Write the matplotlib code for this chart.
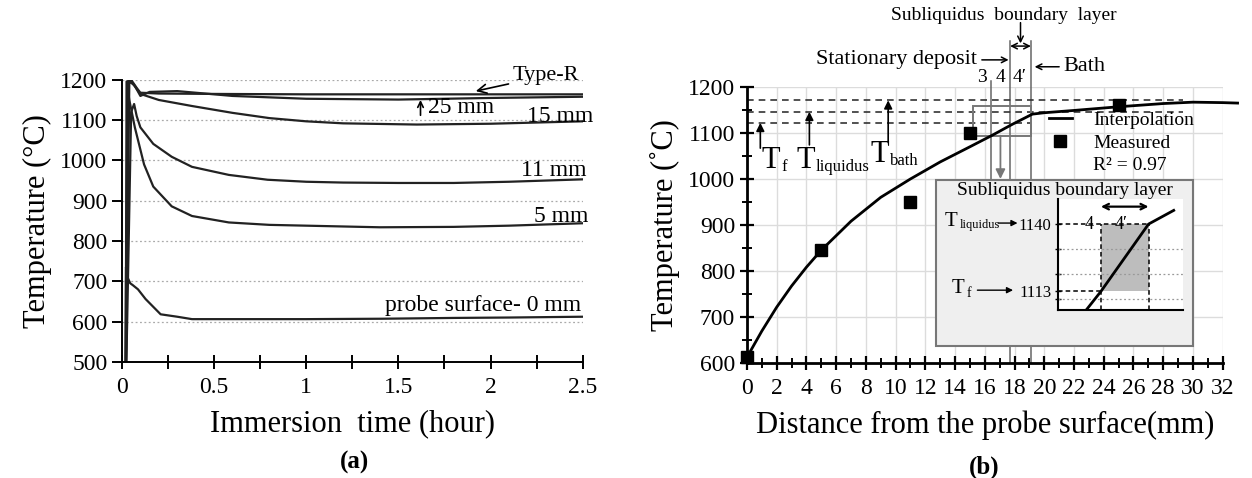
import numpy as np
import matplotlib.pyplot as plt
from matplotlib.ticker import MultipleLocator
from matplotlib.patches import Rectangle

plt.rcParams['font.family'] = ['Liberation Serif', 'DejaVu Serif']

# ---- panel (a): immersion time curves ----
t_typeR = [0.02, 0.03, 0.05, 0.08, 0.1, 0.2, 0.5, 1.0, 1.5, 2.0, 2.5]
T_typeR = [400, 1195, 1200, 1180, 1168, 1166, 1165, 1164, 1164, 1164, 1164]
t_25 = [0.02, 0.035, 0.07, 0.1, 0.15, 0.3, 0.6, 1.0, 1.5, 2.0, 2.5]
T_25 = [400, 1200, 1185, 1160, 1170, 1172, 1160, 1153, 1151, 1155, 1158]
t_15 = [0.02, 0.04, 0.06, 0.1, 0.2, 0.38, 0.6, 0.8, 1.0, 1.2, 1.6, 2.0, 2.5]
T_15 = [400, 1195, 1190, 1165, 1150, 1135, 1118, 1105, 1097, 1092, 1089, 1091, 1097]
t_11 = [0.02, 0.05, 0.066, 0.08, 0.1, 0.17, 0.27, 0.38, 0.58, 0.79, 1.0, 1.2, 1.5, 1.8, 2.1, 2.5]
T_11 = [400, 1120, 1140, 1110, 1082, 1041, 1009, 984, 964, 952, 947, 945, 944, 944, 947, 953]
t_5 = [0.02, 0.025, 0.04, 0.07, 0.12, 0.17, 0.27, 0.38, 0.58, 0.8, 1.0, 1.4, 1.8, 2.1, 2.5]
T_5 = [400, 1196, 1150, 1082, 990, 935, 886, 862, 846, 840, 838, 834, 835, 838, 844]
t_0 = [0.018, 0.022, 0.03, 0.045, 0.06, 0.087, 0.128, 0.21, 0.3, 0.38, 0.6, 1.0, 1.41, 1.8, 2.1, 2.5]
T_0 = [400, 735, 710, 695, 690, 680, 656, 618, 612, 606, 606, 606, 607, 609, 610, 612]

# ---- panel (b): temperature vs distance ----
dist_fit = [0, 1, 2, 3, 4, 5, 7, 9, 11, 13, 15, 16.5, 17.8, 19.2, 20, 22, 25, 28, 30, 32, 33]
T_fit = [612, 669, 721, 767, 808, 845, 908, 960, 1000, 1037, 1070, 1095, 1118, 1141,
         1144, 1149, 1157, 1164, 1167, 1166, 1165]
dist_meas = [0, 5, 11, 15, 25]
T_meas = [612, 845, 950, 1100, 1160]

T_f, T_liq, T_bath = 1122, 1146, 1171
layer_bounds = [16.4, 17.7, 19.1]

# inset (zoom of the subliquidus layer)
ins_x = [17.26, 17.7, 19.1, 19.84]
ins_T = [1105.4, 1113, 1140, 1145.5]

fig = plt.figure(figsize=(12.52, 4.78), dpi=100)
ax = fig.add_axes([0.0974, 0.243, 0.368, 0.590])
bx = fig.add_axes([0.5966, 0.241, 0.380, 0.577])

# ================= (a)
for t, T in [(t_typeR, T_typeR), (t_25, T_25), (t_15, T_15), (t_11, T_11), (t_5, T_5), (t_0, T_0)]:
    ax.plot(t, T, color='#222222', lw=1.6)
ax.set_xlim(0, 2.5)
ax.set_ylim(500, 1200)
ax.yaxis.set_major_locator(MultipleLocator(100))
ax.xaxis.set_minor_locator(MultipleLocator(0.25))
ax.set_xticks([0, 0.5, 1, 1.5, 2, 2.5])
ax.set_xticklabels(['0', '0.5', '1', '1.5', '2', '2.5'])
for yv in range(600, 1201, 100):
    ax.axhline(yv, color='#aaaaaa', lw=0.9, ls=(0, (1.5, 2)), zorder=0)
for s in ['top', 'right']:
    ax.spines[s].set_visible(False)
ax.spines['left'].set_linewidth(1.4)
ax.spines['bottom'].set_linewidth(1.4)
ax.tick_params(axis='y', direction='out', length=7, width=1.4, labelsize=17)
ax.tick_params(axis='x', which='both', direction='inout', length=10, width=1.4, labelsize=17, pad=6)
ax.set_ylabel('Temperature (°C)', fontsize=22, labelpad=6)
ax.set_xlabel('Immersion  time (hour)', fontsize=22, labelpad=8)

ax.annotate('Type-R', xy=(1.92, 1172), xytext=(2.12, 1210), fontsize=16, va='center',
            annotation_clip=False,
            arrowprops=dict(arrowstyle='->', color='black', lw=1.2, shrinkA=1, shrinkB=0))
ax.annotate('', xy=(1.62, 1150), xytext=(1.62, 1112),
            arrowprops=dict(arrowstyle='->', color='black', lw=1.2, shrinkA=0, shrinkB=0))
ax.text(1.66, 1131, '25 mm', fontsize=17, va='center')
ax.text(2.56, 1108, '15 mm', fontsize=17, va='center', ha='right')
ax.text(2.52, 975, '11 mm', fontsize=17, va='center', ha='right')
ax.text(2.53, 862, '5 mm', fontsize=17, va='center', ha='right')
ax.text(2.49, 640, 'probe surface- 0 mm', fontsize=17, va='center', ha='right')

# ================= (b)
bx.plot(dist_fit, T_fit, color='black', lw=2, clip_on=False, zorder=3, label='Interpolation')
bx.plot(dist_meas, T_meas, ls='none', marker='s', ms=8, color='black', clip_on=False,
        zorder=3, label='Measured')
bx.set_xlim(0, 32)
bx.set_ylim(600, 1200)
bx.xaxis.set_major_locator(MultipleLocator(2))
bx.xaxis.set_minor_locator(MultipleLocator(1))
bx.yaxis.set_major_locator(MultipleLocator(100))
bx.yaxis.set_minor_locator(MultipleLocator(50))
bx.grid(True, which='major', color='#dcdcdc', lw=1.0, zorder=0)
bx.set_axisbelow(True)
for s in ['top', 'right']:
    bx.spines[s].set_visible(False)
bx.spines['left'].set_linewidth(2)
bx.spines['bottom'].set_linewidth(2)
bx.tick_params(axis='both', which='major', direction='inout', length=10, width=1.6, labelsize=17)
bx.tick_params(axis='x', which='major', pad=6)
bx.tick_params(axis='both', which='minor', direction='inout', length=7, width=1.4)
bx.set_ylabel('Temperature (˚C)', fontsize=22, labelpad=6)
bx.set_xlabel('Distance from the probe surface(mm)', fontsize=22, labelpad=8)

# characteristic temperatures
for Tv, x_end in [(T_f, 19.1), (T_liq, 29.3), (T_bath, 29.3)]:
    bx.plot([0, x_end], [Tv, Tv], color='#333333', lw=1.2, ls=(0, (4, 3)), zorder=2)
arr = dict(arrowstyle='-|>', color='black', lw=1.2, mutation_scale=12, shrinkA=0, shrinkB=0)
bx.annotate('', xy=(0.9, T_f), xytext=(0.9, 1067), arrowprops=arr)
bx.annotate('', xy=(4.2, T_liq), xytext=(4.2, 1074), arrowprops=arr)
bx.annotate('', xy=(9.5, T_bath), xytext=(9.5, 1080), arrowprops=arr)
bx.text(1.0, 1040, 'T', fontsize=22, va='center')
bx.text(2.3, 1026, 'f', fontsize=12, va='center')
bx.text(3.3, 1040, 'T', fontsize=22, va='center')
bx.text(4.6, 1026, 'liquidus', fontsize=12, va='center')
bx.text(8.3, 1054, 'T', fontsize=22, va='center')
bx.text(9.6, 1040, 'bath', fontsize=12, va='center')

# layer boundaries and labels above the axes
bx.plot([layer_bounds[0]] * 2, [1212, 640], color='#666666', lw=1.1, zorder=1, clip_on=False)
bx.plot([layer_bounds[1]] * 2, [1300, 600], color='#666666', lw=1.1, zorder=1, clip_on=False)
bx.plot([layer_bounds[2]] * 2, [1300, 600], color='#666666', lw=1.1, zorder=1, clip_on=False)
bx.add_patch(Rectangle((15.2, 1094), 3.9, 64, fill=False, ec='#777777', lw=1.4, zorder=2))
bx.annotate('', xy=(17.05, 1000), xytext=(17.05, 1094),
            arrowprops=dict(arrowstyle='-|>', color='#777777', lw=1.3, mutation_scale=14,
                            shrinkA=0, shrinkB=0))
bx.text(15.8, 1220, '3', fontsize=14, ha='center', va='center')
bx.text(17.05, 1220, '4', fontsize=14, ha='center', va='center')
bx.text(18.35, 1220, "4\u2032", fontsize=14, ha='center', va='center')
bx.text(17.3, 1355, 'Subliquidus  boundary  layer', fontsize=14, ha='center', va='center')
bx.annotate('', xy=(18.4, 1295), xytext=(18.4, 1340), annotation_clip=False,
            arrowprops=dict(arrowstyle='->', color='black', lw=1.1, shrinkA=0, shrinkB=0))
bx.annotate('', xy=(layer_bounds[1], 1289), xytext=(layer_bounds[2], 1289), annotation_clip=False,
            arrowprops=dict(arrowstyle='<->', color='black', lw=1.1, shrinkA=0, shrinkB=0))
bx.text(15.5, 1259, 'Stationary deposit', fontsize=16, ha='right', va='center')
bx.annotate('', xy=(17.6, 1259), xytext=(15.8, 1259), annotation_clip=False,
            arrowprops=dict(arrowstyle='->', color='black', lw=1.1, shrinkA=0, shrinkB=0))
bx.text(21.3, 1244, 'Bath', fontsize=16, ha='left', va='center')
bx.annotate('', xy=(19.35, 1244), xytext=(21.0, 1244), annotation_clip=False,
            arrowprops=dict(arrowstyle='->', color='black', lw=1.1, shrinkA=0, shrinkB=0))

# legend
leg = bx.legend(loc='upper left', bbox_to_anchor=(20.3, 1148), bbox_transform=bx.transData,
                frameon=False, fontsize=14, handlelength=1.2, handletextpad=1.1,
                labelspacing=0.3, borderpad=0, borderaxespad=0)
bx.text(23.25, 1030, 'R² = 0.97', fontsize=14, va='center')

# inset panel
bx.add_patch(Rectangle((12.7, 637), 17.3, 360, fc='#efefef', ec='#777777', lw=1.5, zorder=4))
bx.text(21.4, 975, 'Subliquidus boundary layer', fontsize=14, ha='center', va='center', zorder=5)
ix = bx.inset_axes([20.9, 714, 8.4, 242], transform=bx.transData, zorder=5)
ix.set_xlim(16.43, 20.1)
ix.set_ylim(1105.4, 1150)
ix.fill_between([layer_bounds[1], layer_bounds[2]], 1113, 1140, color='#bdbdbd', lw=0)
for yv in [1110, 1120, 1130]:
    ix.axhline(yv, color='#999999', lw=0.9, ls=(0, (1.5, 2)))
ix.plot([16.43, layer_bounds[2]], [1140, 1140], color='black', lw=1.1, ls=(0, (3, 2)))
ix.plot([16.43, layer_bounds[1]], [1113, 1113], color='black', lw=1.1, ls=(0, (3, 2)))
ix.plot([layer_bounds[1]] * 2, [1105.4, 1140], color='black', lw=1.1, ls=(0, (3, 2)))
ix.plot([layer_bounds[2]] * 2, [1105.4, 1140], color='black', lw=1.1, ls=(0, (3, 2)))
ix.plot(ins_x, ins_T, color='black', lw=2)
ix.annotate('', xy=(layer_bounds[1], 1147), xytext=(layer_bounds[2], 1147),
            arrowprops=dict(arrowstyle='<->', color='black', lw=1.6, shrinkA=0, shrinkB=0))
ix.text(17.35, 1140, '4', fontsize=13, ha='center', va='center')
ix.text(18.3, 1140, "4\u2032", fontsize=13, ha='center', va='center')
for s in ['top', 'right']:
    ix.spines[s].set_visible(False)
ix.spines['left'].set_linewidth(1.5)
ix.spines['bottom'].set_linewidth(1.5)
ix.set_xticks([])
ix.set_yticks([1110, 1113, 1120, 1130, 1140])
ix.set_yticklabels(['', '1113', '', '', '1140'])
ix.tick_params(axis='y', direction='inout', length=5, width=1, labelsize=12, pad=2)
bx.text(13.3, 908, 'T', fontsize=15, va='center', zorder=6)
bx.text(14.3, 900, 'liquidus', fontsize=9, va='center', zorder=6)
bx.annotate('', xy=(18.2, 904), xytext=(16.9, 904), zorder=6,
            arrowprops=dict(arrowstyle='-|>', color='black', lw=1.0, mutation_scale=9,
                            shrinkA=0, shrinkB=0))
bx.text(13.8, 762, 'T', fontsize=15, va='center', zorder=6)
bx.text(14.8, 750, 'f', fontsize=10, va='center', zorder=6)
bx.annotate('', xy=(17.9, 758), xytext=(15.5, 758), zorder=6,
            arrowprops=dict(arrowstyle='-|>', color='black', lw=1.0, mutation_scale=9,
                            shrinkA=0, shrinkB=0))

fig.text(0.283, 0.02, '(a)', fontsize=18, fontweight='bold', ha='center')
fig.text(0.786, 0.01, '(b)', fontsize=18, fontweight='bold', ha='center')

fig.savefig('out.png', dpi=100)
